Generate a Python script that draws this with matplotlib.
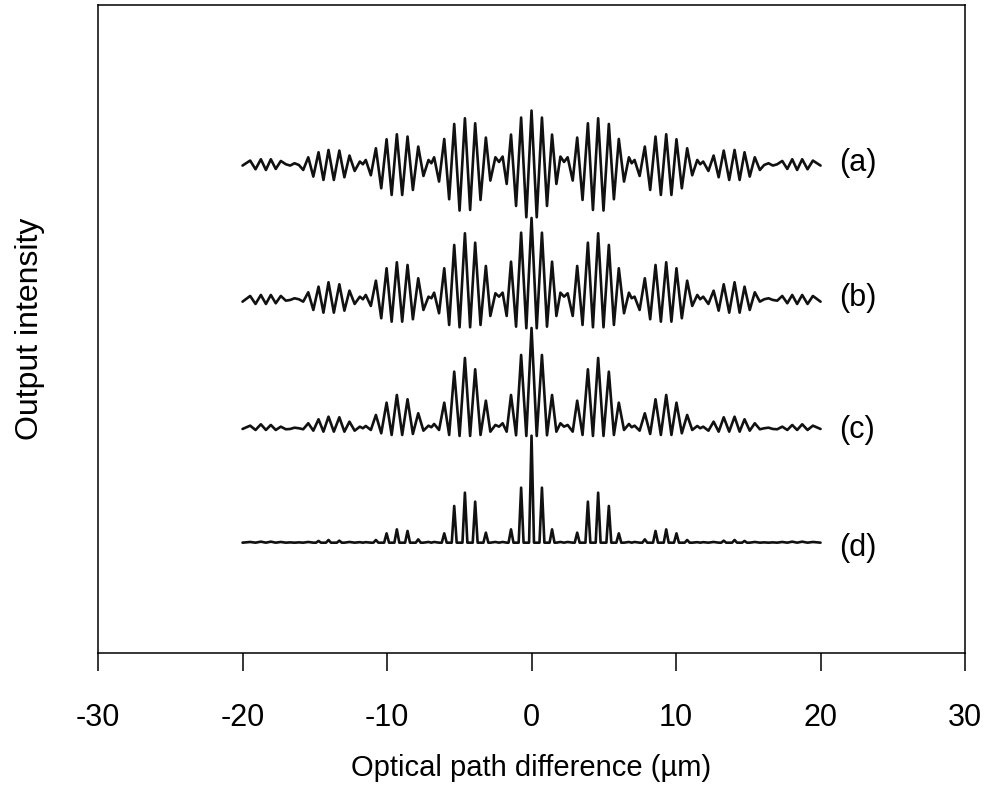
import matplotlib.pyplot as plt

plt.rcParams['font.family'] = ['Liberation Sans', 'DejaVu Sans']
plt.rcParams['axes.unicode_minus'] = False

# extremum positions of the fringes (um), right half; the pattern is symmetric about zero OPD
x_pos = [0.00, 0.36, 0.72, 1.07, 1.42, 1.72, 2.00, 2.25, 2.50, 2.85,
         3.16, 3.53, 3.90, 4.25, 4.61, 4.98, 5.35, 5.70, 6.04, 6.40,
         6.74, 6.93, 7.13, 7.48, 7.84, 8.21, 8.58, 8.95, 9.32, 9.68,
         10.03, 10.40, 10.77, 11.12, 11.47, 11.67, 11.88, 12.24, 12.60, 12.95,
         13.30, 13.68, 14.05, 14.40, 14.74, 15.10, 15.45, 15.80, 16.10, 16.40,
         16.70, 17.00, 17.35, 17.70, 18.04, 18.38, 18.73, 19.10, 19.47, 20.00]

# intensity at those positions, relative to each trace's own baseline (arb. units)
int_a = [53.7, -53, 46.7, -41.7, 29.7, -19.7, 7.7, 2.3, 7, -16.3,
         26.7, -35.7, 41, -45.7, 46, -46.3, 40.3, -35, 25.3, -17.3,
         7, 1, 4.3, -11.7, 17.7, -25.7, 27.7, -30.7, 30, -30.7,
         25, -24, 16, -11, 4.3, 0, 2.7, -6.7, 8.7, -13,
         13.7, -15.7, 14.3, -15.7, 12, -12.3, 7, -5.7, -0.7, 1,
         -1.3, 0, 3.3, -4.7, 5, -5.7, 5, -5, 3.7, -1.3]
int_b = [82, -28.3, 67.3, -26.7, 38.3, -16, 7.3, 3.3, 6.7, -16,
         34, -25, 57.3, -27.3, 66.7, -27.3, 55, -25, 31.7, -13.3,
         7.3, 1.7, 3.3, -10, 21.7, -19.3, 35, -21.7, 37.7, -21.7,
         31.7, -18.3, 19.3, -6, 5, 0.7, 3.3, -4, 9.3, -10.7,
         15.7, -12.7, 17.7, -12.7, 13.3, -10, 7.7, -1.7, 0.7, 1.7,
         0, -0.7, 4, -3.3, 5, -4, 5, -4, 4, -1.7]
int_c = [102, -6, 75, -5.3, 35, -1.7, 6.7, 3.3, 5, -1.7,
         29.3, -5, 60.7, -6, 72, -6, 58.3, -5, 27.3, 0,
         6, 2.7, 4.3, -0.7, 16.7, -4, 30.7, -5, 35, -5,
         27.3, -3.3, 15, 0, 4, 1.7, 3.3, -0.7, 8.3, -1.7,
         12.7, -1.7, 13.3, -1.7, 10.7, -0.7, 6.7, 0.7, 1.7, 2.3,
         1, 0.7, 3.3, 0, 5, 0, 5.7, 0, 4.3, 1]
int_d = [107, 0, 55, 0, 13.3, 0, 0.7, 0, 0.7, 0,
         10, 0, 41, 0, 50, 0, 36.7, 0, 9.3, 0,
         0.7, 0, 0.7, 0, 3.3, 0, 11.7, 0, 13.3, 0,
         9.3, 0, 2.7, 0, 0.5, 0, 0.5, 0, 0.7, 0,
         2, 0, 2.7, 0, 1.7, 0, 0.7, 0, 0.3, 0,
         0.3, 0, 0.7, 0, 1, 0, 1, 0, 0.7, 0]

labels = ['(a)', '(b)', '(c)', '(d)']
offsets = [488.7, 353, 223, 110.3]
label_y = [490, 355, 223, 105]
traces = [int_a, int_b, int_c, int_d]
foot = [None, None, None, 0.17]   # half width of the narrow peaks in (d)


def full_trace(xs, ys, half=None):
    # mirror the right half about zero OPD
    x = [-v for v in reversed(xs[1:])] + list(xs)
    y = list(reversed(ys[1:])) + list(ys)
    if half is None:
        return x, y
    xx, yy = [], []
    for xi, yi in zip(x, y):
        if yi > 1.5:
            xx += [xi - half, xi, xi + half]
            yy += [0, yi, 0]
        else:
            xx.append(xi)
            yy.append(yi)
    return xx, yy


fig = plt.figure(figsize=(9.9, 7.87), dpi=100)
ax = fig.add_axes([0.099, 0.1703, 0.8758, 0.8234])

for lab, off, ly, tr, ft in zip(labels, offsets, label_y, traces, foot):
    x, y = full_trace(x_pos, tr, ft)
    ax.plot(x, [v + off for v in y], color='#111111', lw=1.9,
            solid_joinstyle='round', solid_capstyle='round')
    ax.text(21.3, ly, lab, fontsize=22, ha='left', va='center')

ax.set_xlim(-30, 30)
ax.set_ylim(0, 648)
ax.set_xticks([-30, -20, -10, 0, 10, 20, 30])
ax.set_yticks([])
ax.tick_params(axis='x', direction='out', length=13, width=1.1, labelsize=22, pad=23)
for s in ax.spines.values():
    s.set_linewidth(1.1)

ax.set_xlabel('Optical path difference (\u00b5m)', fontsize=21, va='center')
ax.xaxis.set_label_coords(0.5, -0.1775)
ax.set_ylabel('Output intensity', fontsize=23, va='center')
ax.yaxis.set_label_coords(-0.078, 0.5)

fig.savefig('out.png', dpi=100)
